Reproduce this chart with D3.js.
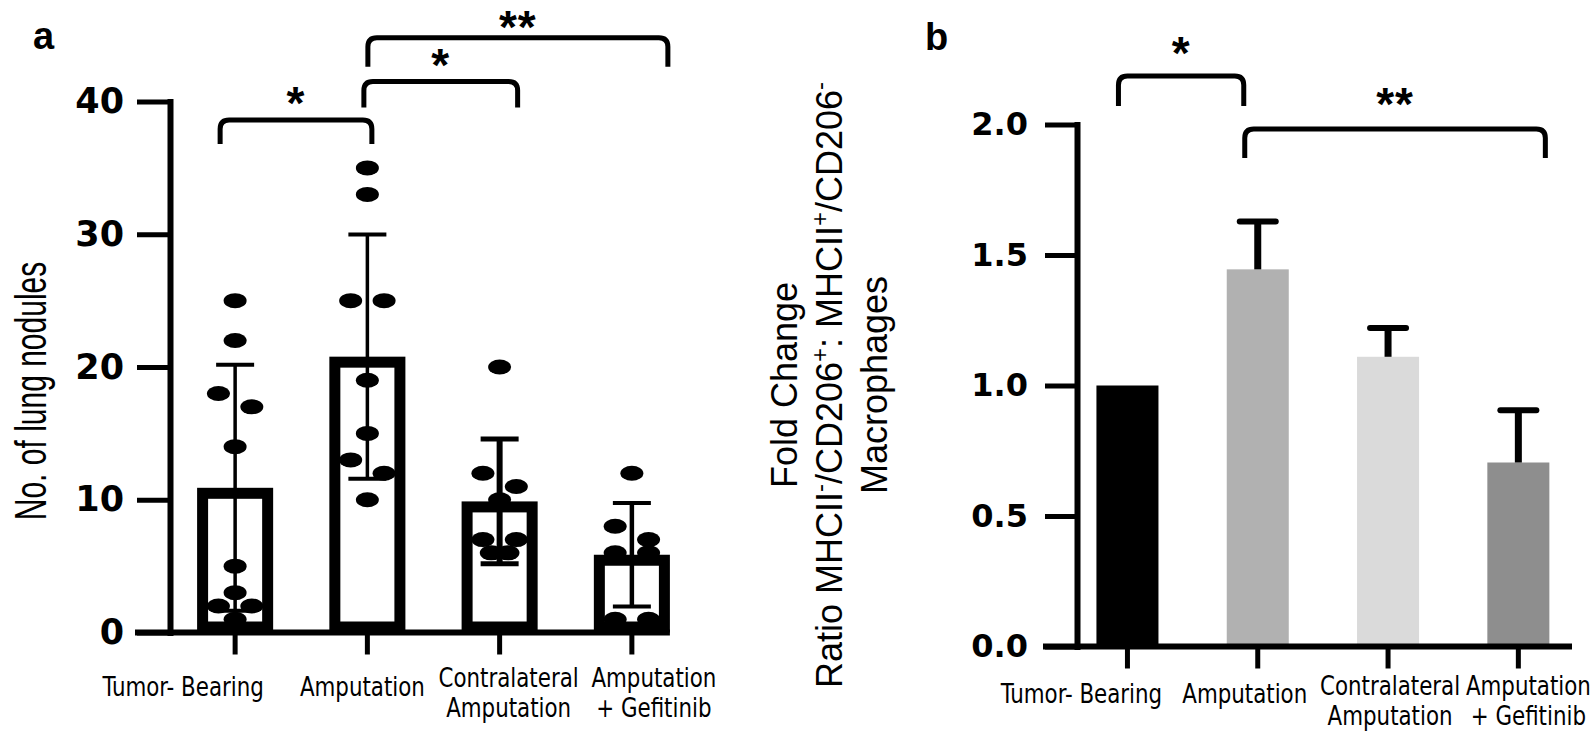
<!DOCTYPE html>
<html>
<head>
<meta charset="utf-8">
<script src="https://cdn.jsdelivr.net/npm/d3@7"></script>
<style>
  html, body { margin: 0; padding: 0; background: #fff; }
  svg { display: block; }
</style>
</head>
<body>
<div id="chart"></div>
<script>
// ---- data ----
const groups = ['Tumor- Bearing', 'Amputation', 'Contralateral Amputation', 'Amputation + Gefitinib']
const groupLines = [['Tumor- Bearing'], ['Amputation'], ['Contralateral', 'Amputation'], ['Amputation', '+ Gefitinib']]

// panel a: lung nodules per animal
const noduleTumor = [25, 22, 18, 17, 14, 5, 3, 2, 2, 1]
const noduleAmp = [35, 33, 25, 25, 19, 15, 13, 12, 10]
const noduleContra = [20, 12, 11, 10, 7, 7, 6, 6]
const noduleGef = [12, 8, 7, 6, 6, 1, 1]
const noduleTicks = [0, 10, 20, 30, 40]

// panel b: fold change, mean and error
const foldMean = [1.0, 1.445, 1.11, 0.705]
const foldErr = [0, 0.183, 0.11, 0.2]
const foldTicks = [0, 0.5, 1.0, 1.5, 2.0]

// significance: [from, to, label]
const sigA = [[0, 1, '*'], [1, 2, '*'], [1, 3, '**']]
const sigB = [[0, 1, '*'], [1, 3, '**']]

// ---- setup ----
const W = 1594, H = 732
const NUM_FONT = "'DejaVu Sans', sans-serif"
const TXT_FONT = "'Liberation Sans', Arial, sans-serif"
const CAT_FONT = "'Liberation Sans Narrow', 'DejaVu Sans Condensed', sans-serif"
const STAR_SIZE = 46
const CAT_SIZE = 27
const CAT_LINE = 30.5

const svg = d3.select('#chart').append('svg')
  .attr('width', W)
  .attr('height', H)
  .style('background', '#fff')

// category labels, one or two lines under each tick
function catLabels(g, x, nudge, ySingle, yDouble) {
  groupLines.forEach((lines, i) => {
    const cx = x(groups[i]) + x.bandwidth() / 2 + nudge[i]
    const top = lines.length === 1 ? ySingle : yDouble
    const t = g.append('text')
      .attr('transform', `translate(${cx},${top}) scale(0.88,1)`)
      .attr('text-anchor', 'middle')
      .attr('font-family', CAT_FONT)
      .attr('font-size', CAT_SIZE)
      .attr('fill', '#000')
    lines.forEach((s, k) => {
      t.append('tspan').attr('x', 0).attr('y', k * CAT_LINE).text(s)
    })
  })
}

// significance bracket; star centred `gap` px above the bar
function bracket(g, x1, x2, yTop, leg, label, gap) {
  const r = 9
  const yBot = yTop + leg
  g.append('path')
    .attr('d', `M${x1},${yBot} L${x1},${yTop + r} Q${x1},${yTop} ${x1 + r},${yTop} L${x2 - r},${yTop} Q${x2},${yTop} ${x2},${yTop + r} L${x2},${yBot}`)
    .attr('fill', 'none')
    .attr('stroke', '#000')
    .attr('stroke-width', 5)
  g.append('text')
    .attr('x', (x1 + x2) / 2)
    .attr('y', yTop - gap + 0.467 * STAR_SIZE)
    .attr('text-anchor', 'middle')
    .attr('font-family', TXT_FONT)
    .attr('font-weight', 'bold')
    .attr('font-size', STAR_SIZE)
    .attr('letter-spacing', 1)
    .text(label)
}

function styleYAxis(ag, size) {
  ag.select('.domain').attr('stroke', '#000').attr('stroke-width', 6).attr('stroke-linecap', 'square')
  ag.selectAll('.tick line').attr('stroke', '#000').attr('stroke-width', 5)
  ag.selectAll('.tick text')
    .attr('font-family', NUM_FONT)
    .attr('font-weight', 'bold')
    .attr('font-size', size)
    .attr('fill', '#000')
}

function xTicks(g, x, y0) {
  const xg = g.append('g')
    .attr('transform', `translate(0,${y0})`)
    .call(d3.axisBottom(x).tickSize(22))
  xg.select('.domain').remove()
  xg.selectAll('.tick text').remove()
  xg.selectAll('.tick line').attr('stroke', '#000').attr('stroke-width', 5)
}

// ---- panel a ----
function drawPanelA() {
  const g = svg.append('g').classed('panel-a', true)
  const x = d3.scaleBand().domain(groups).range([169, 698]).paddingInner(0.425).paddingOuter(0.2125)
  const y = d3.scaleLinear().domain([0, 40]).range([632.5, 101.5])
  const axisX = 170
  const series = [noduleTumor, noduleAmp, noduleContra, noduleGef]
  const stats = series.map((vals, i) => ({
    name: groups[i],
    vals: vals,
    mean: d3.mean(vals),
    sd: d3.deviation(vals)
  }))

  // bars (open, thick outline)
  const sw = 11
  g.selectAll('rect.bar').data(stats).join('rect')
    .attr('class', 'bar')
    .attr('x', d => x(d.name) + sw / 2)
    .attr('y', d => y(d.mean) + sw / 2)
    .attr('width', x.bandwidth() - sw)
    .attr('height', d => y(0) - y(d.mean) - sw)
    .attr('fill', 'none')
    .attr('stroke', '#000')
    .attr('stroke-width', sw)

  // error bars (mean ± SD)
  const errW = [3.5, 3.5, 6, 4.5]
  const capW = 38
  stats.forEach((d, i) => {
    const cx = x(d.name) + x.bandwidth() / 2
    const lo = y(d.mean - d.sd), hi = y(d.mean + d.sd)
    g.append('line').attr('x1', cx).attr('x2', cx).attr('y1', lo).attr('y2', hi)
      .attr('stroke', '#000').attr('stroke-width', errW[i])
    ;[lo, hi].forEach(yy => {
      g.append('line').attr('x1', cx - capW / 2).attr('x2', cx + capW / 2).attr('y1', yy).attr('y2', yy)
        .attr('stroke', '#000').attr('stroke-width', Math.max(4, errW[i] - 1))
    })
  })

  // individual points, spread sideways when they would overlap
  const dx = 16.7, rowH = 15
  stats.forEach(d => {
    const cx = x(d.name) + x.bandwidth() / 2
    const sorted = d.vals.slice().sort((a, b) => b - a)
    const rows = []
    sorted.forEach(v => {
      const last = rows[rows.length - 1]
      if (last && Math.abs(y(v) - y(last[0])) < rowH) last.push(v)
      else rows.push([v])
    })
    rows.forEach(row => {
      const offs = row.length === 1 ? [0]
        : row.length === 2 ? [-dx, dx]
        : row.length === 3 ? [0, -dx, dx]
        : [-dx, dx, -dx / 2, dx / 2, -2 * dx, 2 * dx]
      row.forEach((v, k) => {
        g.append('ellipse')
          .attr('cx', cx + offs[k])
          .attr('cy', y(v))
          .attr('rx', 11.5)
          .attr('ry', 7.5)
          .attr('fill', '#000')
      })
    })
  })

  // y axis
  const ag = g.append('g')
    .attr('transform', `translate(${axisX},0)`)
    .call(d3.axisLeft(y).tickValues(noduleTicks).tickSize(33).tickSizeOuter(0).tickPadding(13).tickFormat(d3.format('d')))
  styleYAxis(ag, 35)

  // x axis
  const lastRight = x(groups[3]) + x.bandwidth()
  g.append('line').attr('x1', 135).attr('x2', lastRight).attr('y1', y(0)).attr('y2', y(0))
    .attr('stroke', '#000').attr('stroke-width', 6)
  xTicks(g, x, y(0))

  catLabels(g, x, [-52, -5, 9, 22], 696, 686.5)

  // brackets
  const nudges = [[-15, 4.5], [-3.5, 18], [0.5, 36]]
  const tops = [38.6, 41.5, 44.8]
  const legs = [24, 26, 29]
  const gaps = [23, 22.5, 16.5]
  sigA.forEach((s, i) => {
    const x1 = x(groups[s[0]]) + x.bandwidth() / 2 + nudges[i][0]
    const x2 = x(groups[s[1]]) + x.bandwidth() / 2 + nudges[i][1]
    bracket(g, x1, x2, y(tops[i]), legs[i], s[2], gaps[i])
  })

  // y title (stretched across like the original)
  g.append('text')
    .attr('transform', 'translate(46,391) rotate(-90) scale(1,1.5)')
    .attr('text-anchor', 'middle')
    .attr('font-family', TXT_FONT)
    .attr('font-size', 30)
    .text('No. of lung nodules')

  g.append('text').attr('x', 33).attr('y', 49)
    .attr('font-family', TXT_FONT).attr('font-weight', 'bold').attr('font-size', 38)
    .text('a')
}

// ---- panel b ----
function drawPanelB() {
  const g = svg.append('g').classed('panel-b', true)
  const x = d3.scaleBand().domain(groups).range([1062.3, 1583.5]).paddingInner(0.524).paddingOuter(0.262)
  const y = d3.scaleLinear().domain([0, 2]).range([646.5, 124.5])
  const axisX = 1077
  const fills = ['#000000', '#b1b1b1', '#dadada', '#8e8e8e']
  const data = groups.map((name, i) => ({ name, mean: foldMean[i], err: foldErr[i] }))

  g.selectAll('rect.bar').data(data).join('rect')
    .attr('class', 'bar')
    .attr('x', d => x(d.name))
    .attr('y', d => y(d.mean))
    .attr('width', x.bandwidth())
    .attr('height', d => y(0) - y(d.mean))
    .attr('fill', (d, i) => fills[i])

  // upward error bars
  data.forEach(d => {
    if (!d.err) return
    const cx = x(d.name) + x.bandwidth() / 2
    const hi = y(d.mean + d.err)
    g.append('line').attr('x1', cx).attr('x2', cx).attr('y1', y(d.mean)).attr('y2', hi)
      .attr('stroke', '#000').attr('stroke-width', 7)
    g.append('line').attr('x1', cx - 18).attr('x2', cx + 18).attr('y1', hi).attr('y2', hi)
      .attr('stroke', '#000').attr('stroke-width', 6).attr('stroke-linecap', 'round')
  })

  const ag = g.append('g')
    .attr('transform', `translate(${axisX},0)`)
    .call(d3.axisLeft(y).tickValues(foldTicks).tickSize(32).tickSizeOuter(0).tickPadding(17).tickFormat(d3.format('.1f')))
  styleYAxis(ag, 32)

  g.append('line').attr('x1', 1043).attr('x2', 1572).attr('y1', y(0)).attr('y2', y(0))
    .attr('stroke', '#000').attr('stroke-width', 6)
  xTicks(g, x, y(0))

  catLabels(g, x, [-46, -13, 2, 10], 703, 695)

  const nudges = [[-9, -14], [-13, 27]]
  const tops = [2.186, 1.983]
  const legs = [30, 29]
  const gaps = [28, 30]
  sigB.forEach((s, i) => {
    const x1 = x(groups[s[0]]) + x.bandwidth() / 2 + nudges[i][0]
    const x2 = x(groups[s[1]]) + x.bandwidth() / 2 + nudges[i][1]
    bracket(g, x1, x2, y(tops[i]), legs[i], s[2], gaps[i])
  })

  // y title: three rotated lines, superscript charges
  const tt = g.append('text')
    .attr('transform', 'translate(0,385) rotate(-90)')
    .attr('text-anchor', 'middle')
    .attr('font-family', TXT_FONT)
    .attr('font-size', 36)
    .attr('fill', '#000')
  const lineYs = [797, 842, 887]
  tt.append('tspan').attr('x', 0).attr('y', lineYs[0]).text('Fold Change')
  const mid = tt.append('tspan').attr('x', 0).attr('y', lineYs[1])
  const parts = [['Ratio MHCII', 0], ['-', 1], ['/CD206', 0], ['+', 1], [': MHCII', 0], ['+', 1], ['/CD206', 0], ['-', 1]]
  parts.forEach(p => {
    const s = mid.append('tspan').text(p[0])
    if (p[1]) s.attr('font-size', 24).attr('baseline-shift', '60%')
  })
  tt.append('tspan').attr('x', 0).attr('y', lineYs[2]).text('Macrophages')

  g.append('text').attr('x', 925).attr('y', 50)
    .attr('font-family', TXT_FONT).attr('font-weight', 'bold').attr('font-size', 38)
    .text('b')
}

drawPanelA()
drawPanelB()
</script>
</body>
</html>
